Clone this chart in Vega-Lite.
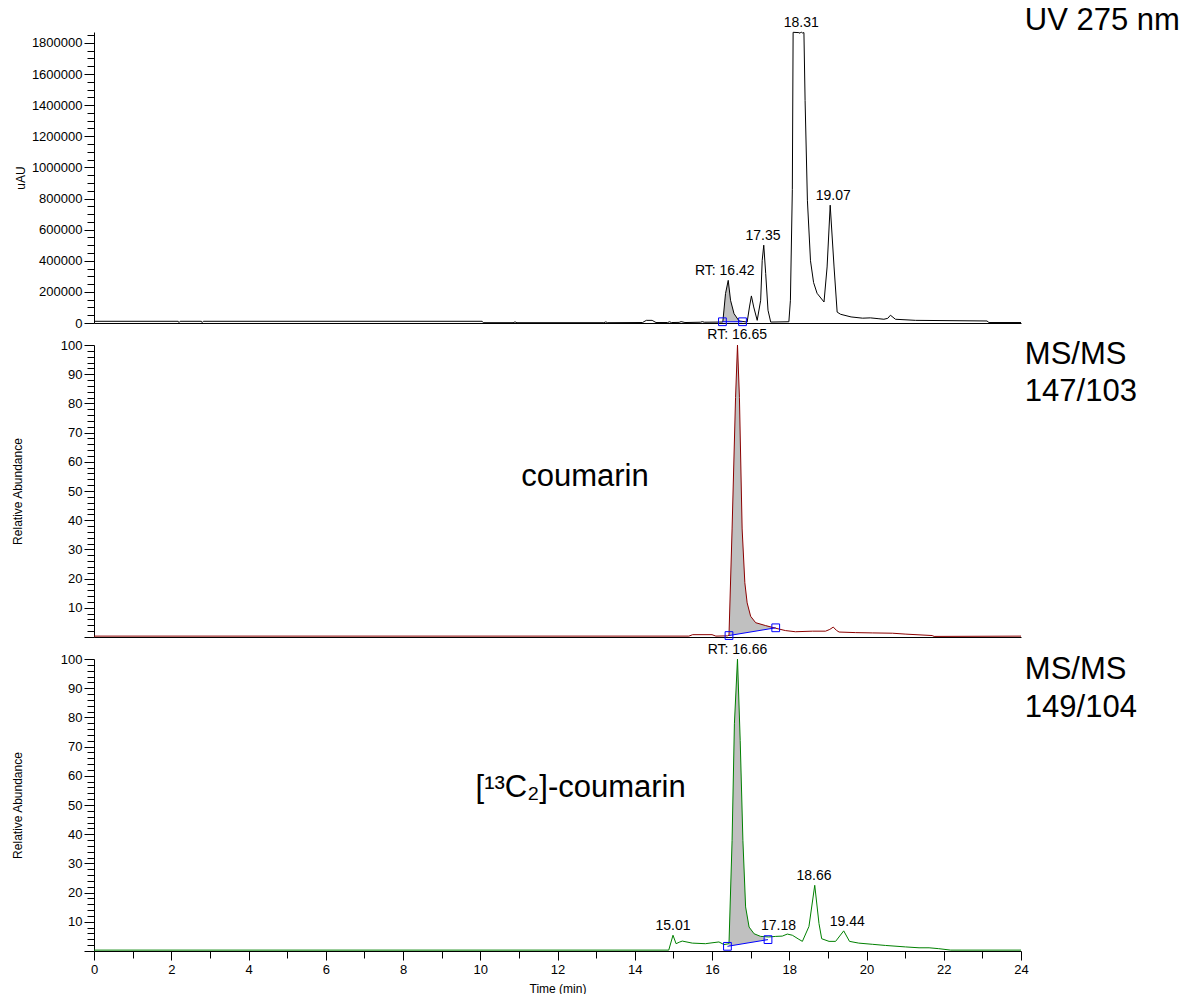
{
  "$schema": "https://vega.github.io/schema/vega-lite/v6.json",
  "padding": {"left": 11, "top": 5, "right": 0, "bottom": 0},
  "autosize": {"type": "pad"},
  "bounds": "flush",
  "spacing": 22,
  "config": {
    "font": "Liberation Sans",
    "view": {"stroke": null},
    "axis": {"domainColor": "black", "tickColor": "black", "labelColor": "black", "titleColor": "black", "grid": false, "labelFontSize": 13, "titleFontWeight": "normal", "titleFontSize": 12, "labelFont": "Liberation Sans", "titleFont": "Liberation Sans", "labelFlush": false},
    "text": {"color": "black", "font": "Liberation Sans"}
  },
  "datasets": {
    "uv": [
      {"t":0,"v":11000},{"t":2.18,"v":11000},{"t":2.2,"v":3000},{"t":2.23,"v":11000},{"t":2.78,"v":11000},{"t":2.8,"v":3000},{"t":2.83,"v":11000},{"t":10.05,"v":11000},{"t":10.08,"v":2000},{"t":10.85,"v":2000},{"t":10.9,"v":7000},{"t":10.95,"v":2000},{"t":13.2,"v":2000},{"t":13.25,"v":7000},{"t":13.3,"v":2000},{"t":14.2,"v":3000},{"t":14.3,"v":17000},{"t":14.45,"v":17000},{"t":14.55,"v":3000},{"t":14.85,"v":3000},{"t":14.9,"v":8000},{"t":14.95,"v":3000},{"t":15.15,"v":4000},{"t":15.2,"v":9000},{"t":15.3,"v":3000},{"t":15.7,"v":5000},{"t":15.75,"v":9000},{"t":15.8,"v":5000},{"t":16.2,"v":6000},{"t":16.28,"v":6400},{"t":16.35,"v":189000},{"t":16.42,"v":274000},{"t":16.48,"v":146000},{"t":16.57,"v":60000},{"t":16.7,"v":13000},{"t":16.91,"v":6000},{"t":16.97,"v":103000},{"t":17.02,"v":174000},{"t":17.08,"v":103000},{"t":17.17,"v":17000},{"t":17.26,"v":146000},{"t":17.3,"v":403000},{"t":17.34,"v":500000},{"t":17.39,"v":318000},{"t":17.45,"v":82000},{"t":17.52,"v":6000},{"t":17.99,"v":8000},{"t":18.03,"v":146000},{"t":18.08,"v":857000},{"t":18.1,"v":1868000},{"t":18.25,"v":1866000},{"t":18.28,"v":1862000},{"t":18.31,"v":1870000},{"t":18.34,"v":1864000},{"t":18.38,"v":1866000},{"t":18.41,"v":1430000},{"t":18.47,"v":789000},{"t":18.55,"v":400000},{"t":18.63,"v":260000},{"t":18.72,"v":191000},{"t":18.9,"v":135000},{"t":18.98,"v":360000},{"t":19.06,"v":757000},{"t":19.16,"v":360000},{"t":19.24,"v":70000},{"t":19.33,"v":56000},{"t":19.6,"v":39000},{"t":19.9,"v":31000},{"t":20.1,"v":33000},{"t":20.3,"v":28000},{"t":20.45,"v":24000},{"t":20.55,"v":30000},{"t":20.62,"v":50000},{"t":20.75,"v":24000},{"t":21.27,"v":17000},{"t":23.12,"v":13000},{"t":23.17,"v":3000},{"t":24,"v":3000}
    ],
    "uvFill": [
      {"t":16.28,"v":6400,"b":6000},{"t":16.35,"v":189000,"b":6000},{"t":16.42,"v":274000,"b":6000},{"t":16.48,"v":146000,"b":6000},{"t":16.57,"v":60000,"b":6000},{"t":16.7,"v":13000,"b":6000},{"t":16.75,"v":6000,"b":6000}
    ],
    "uvBase": [{"t":16.27,"v":8000},{"t":16.79,"v":8000}],
    "uvLab": [
      {"t":16.33,"v":274000,"label":"RT: 16.42"},{"t":17.32,"v":500000,"label":"17.35"},{"t":18.31,"v":1870000,"label":"18.31"},{"t":19.14,"v":757000,"label":"19.07"}
    ],
    "uvBig": [{"t":24.1,"v":1882000,"label":"UV 275 nm"}],
    "ms1": [
      {"t":0,"v":0.3},{"t":15.4,"v":0.3},{"t":15.5,"v":0.8},{"t":16.0,"v":0.8},{"t":16.1,"v":0.3},{"t":16.4,"v":0.4},{"t":16.44,"v":0.6},{"t":16.52,"v":37},{"t":16.61,"v":82},{"t":16.66,"v":100},{"t":16.71,"v":82},{"t":16.78,"v":37},{"t":16.85,"v":18.6},{"t":16.91,"v":11.7},{"t":17.0,"v":7.1},{"t":17.13,"v":4.9},{"t":17.39,"v":3.9},{"t":17.65,"v":3.0},{"t":17.9,"v":2.2},{"t":18.16,"v":1.8},{"t":18.6,"v":2.0},{"t":18.94,"v":2.0},{"t":19.05,"v":2.6},{"t":19.14,"v":3.4},{"t":19.22,"v":2.3},{"t":19.29,"v":1.7},{"t":19.72,"v":1.5},{"t":20.15,"v":1.4},{"t":20.67,"v":1.3},{"t":21.0,"v":1.0},{"t":21.7,"v":0.5},{"t":21.75,"v":0.2},{"t":24,"v":0.3}
    ],
    "ms1Fill": [
      {"t":16.44,"v":0.5,"b":0.5},{"t":16.52,"v":37,"b":0.68},{"t":16.61,"v":82,"b":0.87},{"t":16.66,"v":100,"b":0.98},{"t":16.71,"v":82,"b":1.09},{"t":16.78,"v":37,"b":1.24},{"t":16.85,"v":18.6,"b":1.4},{"t":16.91,"v":11.7,"b":1.53},{"t":17.0,"v":7.1,"b":1.73},{"t":17.13,"v":4.9,"b":2.01},{"t":17.39,"v":3.9,"b":2.58},{"t":17.65,"v":3.15,"b":3.15}
    ],
    "ms1Base": [{"t":16.44,"v":0.5},{"t":17.65,"v":3.15}],
    "ms1Lab": [{"t":16.65,"v":100,"label":"RT: 16.65"}],
    "ms1Big": [{"t":24.1,"v":93.4,"label":"MS/MS"},{"t":24.1,"v":80.7,"label":"147/103"}],
    "ms1Name": [{"t":12.71,"v":51.7,"label":"coumarin"}],
    "ms2": [
      {"t":0,"v":0.3},{"t":14.88,"v":0.3},{"t":14.99,"v":5.4},{"t":15.07,"v":2.5},{"t":15.15,"v":3.0},{"t":15.23,"v":3.4},{"t":15.49,"v":2.7},{"t":15.83,"v":2.5},{"t":16.0,"v":2.8},{"t":16.18,"v":3.1},{"t":16.31,"v":2.2},{"t":16.44,"v":2.5},{"t":16.52,"v":37.9},{"t":16.58,"v":77.8},{"t":16.66,"v":100},{"t":16.73,"v":72.1},{"t":16.8,"v":37.9},{"t":16.87,"v":15.1},{"t":16.96,"v":8.2},{"t":17.09,"v":5.9},{"t":17.26,"v":5.0},{"t":17.47,"v":4.8},{"t":17.65,"v":5.0},{"t":17.82,"v":5.1},{"t":17.95,"v":5.8},{"t":18.08,"v":5.4},{"t":18.25,"v":4.0},{"t":18.34,"v":3.3},{"t":18.51,"v":8.4},{"t":18.66,"v":22.5},{"t":18.77,"v":9.4},{"t":18.84,"v":4.2},{"t":19.03,"v":3.3},{"t":19.2,"v":3.3},{"t":19.41,"v":6.9},{"t":19.56,"v":3.3},{"t":19.8,"v":2.7},{"t":20.15,"v":2.3},{"t":20.49,"v":1.9},{"t":21.01,"v":1.4},{"t":21.36,"v":1.1},{"t":21.62,"v":1.1},{"t":21.87,"v":0.8},{"t":22.18,"v":0.3},{"t":24,"v":0.3}
    ],
    "ms2Fill": [
      {"t":16.44,"v":1.7,"b":1.7},{"t":16.52,"v":37.9,"b":1.86},{"t":16.58,"v":77.8,"b":1.99},{"t":16.66,"v":100,"b":2.17},{"t":16.73,"v":72.1,"b":2.32},{"t":16.8,"v":37.9,"b":2.48},{"t":16.87,"v":15.1,"b":2.63},{"t":16.96,"v":8.2,"b":2.83},{"t":17.09,"v":5.9,"b":3.11},{"t":17.26,"v":5.0,"b":3.48},{"t":17.45,"v":3.9,"b":3.9}
    ],
    "ms2Base": [{"t":16.4,"v":1.6},{"t":17.45,"v":3.9}],
    "ms2Lab": [
      {"t":16.66,"v":100,"label":"RT: 16.66"},{"t":14.99,"v":5.4,"label":"15.01"},{"t":17.72,"v":5.4,"label":"17.18"},{"t":18.64,"v":22.5,"label":"18.66"},{"t":19.5,"v":6.9,"label":"19.44"}
    ],
    "ms2Big": [{"t":24.1,"v":93.3,"label":"MS/MS"},{"t":24.1,"v":80.0,"label":"149/104"}],
    "ms2Name": [{"t":12.6,"v":52.6,"label":"[¹³C₂]-coumarin"}]
  },
  "vconcat": [
    {
      "width": 927, "height": 291,
      "encoding": {
        "x": {"field": "t", "type": "quantitative", "scale": {"domain": [0, 24], "nice": false, "zero": false}, "axis": {"labels": false, "ticks": false, "title": null}},
        "y": {"field": "v", "type": "quantitative", "scale": {"domain": [0, 1870000], "nice": false},
          "axis": {"title": "uAU", "titlePadding": 4, "format": "d", "labelPadding": 2,
            "values": [0,50000,100000,150000,200000,250000,300000,350000,400000,450000,500000,550000,600000,650000,700000,750000,800000,850000,900000,950000,1000000,1050000,1100000,1150000,1200000,1250000,1300000,1350000,1400000,1450000,1500000,1550000,1600000,1650000,1700000,1750000,1800000,1850000],
            "labelExpr": "datum.value % 200000 === 0 ? datum.label : ''",
            "tickSize": {"condition": {"test": "datum.value % 200000 === 0", "value": 10}, "value": 7}}}
      },
      "layer": [
        {"data": {"name": "uvFill"}, "mark": {"type": "area", "color": "#c0c0c0", "opacity": 1}, "encoding": {"y2": {"field": "b"}}},
        {"data": {"name": "uv"}, "mark": {"type": "line", "color": "black", "strokeWidth": 1}},
        {"data": {"name": "uvBase"}, "mark": {"type": "line", "color": "#0000ff", "strokeWidth": 1}},
        {"data": {"name": "uvBase"}, "mark": {"type": "point", "shape": "square", "size": 60, "filled": false, "color": "#0000ff", "strokeWidth": 1, "opacity": 1}},
        {"data": {"name": "uvLab"}, "mark": {"type": "text", "fontSize": 14, "baseline": "alphabetic", "dy": -5}, "encoding": {"text": {"field": "label"}}},
        {"data": {"name": "uvBig"}, "mark": {"type": "text", "fontSize": 31, "align": "left", "baseline": "alphabetic"}, "encoding": {"text": {"field": "label"}}}
      ]
    },
    {
      "width": 927, "height": 292,
      "encoding": {
        "x": {"field": "t", "type": "quantitative", "scale": {"domain": [0, 24], "nice": false, "zero": false}, "axis": {"labels": false, "ticks": false, "title": null}},
        "y": {"field": "v", "type": "quantitative", "scale": {"domain": [0, 100], "nice": false},
          "axis": {"title": "Relative Abundance", "titlePadding": 36, "labelPadding": 2, "format": "d",
            "values": [0,2,4,6,8,10,12,14,16,18,20,22,24,26,28,30,32,34,36,38,40,42,44,46,48,50,52,54,56,58,60,62,64,66,68,70,72,74,76,78,80,82,84,86,88,90,92,94,96,98,100],
            "labelExpr": "datum.value % 10 === 0 && datum.value > 0 ? datum.label : ''",
            "tickSize": {"condition": {"test": "datum.value % 10 === 0", "value": 10}, "value": 7}}}
      },
      "layer": [
        {"data": {"name": "ms1Fill"}, "mark": {"type": "area", "color": "#c0c0c0", "opacity": 1}, "encoding": {"y2": {"field": "b"}}},
        {"data": {"name": "ms1"}, "mark": {"type": "line", "color": "#8b0000", "strokeWidth": 1}},
        {"data": {"name": "ms1Base"}, "mark": {"type": "line", "color": "#0000ff", "strokeWidth": 1}},
        {"data": {"name": "ms1Base"}, "mark": {"type": "point", "shape": "square", "size": 60, "filled": false, "color": "#0000ff", "strokeWidth": 1, "opacity": 1}},
        {"data": {"name": "ms1Lab"}, "mark": {"type": "text", "fontSize": 14, "baseline": "alphabetic", "dy": -6}, "encoding": {"text": {"field": "label"}}},
        {"data": {"name": "ms1Big"}, "mark": {"type": "text", "fontSize": 31, "align": "left", "baseline": "alphabetic"}, "encoding": {"text": {"field": "label"}}},
        {"data": {"name": "ms1Name"}, "mark": {"type": "text", "fontSize": 31, "align": "center", "baseline": "alphabetic"}, "encoding": {"text": {"field": "label"}}}
      ]
    },
    {
      "width": 927, "height": 292,
      "encoding": {
        "x": {"field": "t", "type": "quantitative", "scale": {"domain": [0, 24], "nice": false, "zero": false},
          "axis": {"title": "Time (min)", "titlePadding": 7, "labelPadding": 3, "format": "d",
            "values": [0,0.5,1,1.5,2,2.5,3,3.5,4,4.5,5,5.5,6,6.5,7,7.5,8,8.5,9,9.5,10,10.5,11,11.5,12,12.5,13,13.5,14,14.5,15,15.5,16,16.5,17,17.5,18,18.5,19,19.5,20,20.5,21,21.5,22,22.5,23,23.5,24],
            "labelExpr": "datum.value % 2 === 0 ? datum.label : ''",
            "tickSize": {"condition": {"test": "datum.value % 2 === 0", "value": 9}, "value": 7}}},
        "y": {"field": "v", "type": "quantitative", "scale": {"domain": [0, 100], "nice": false},
          "axis": {"title": "Relative Abundance", "titlePadding": 36, "labelPadding": 2, "format": "d",
            "values": [0,2,4,6,8,10,12,14,16,18,20,22,24,26,28,30,32,34,36,38,40,42,44,46,48,50,52,54,56,58,60,62,64,66,68,70,72,74,76,78,80,82,84,86,88,90,92,94,96,98,100],
            "labelExpr": "datum.value % 10 === 0 && datum.value > 0 ? datum.label : ''",
            "tickSize": {"condition": {"test": "datum.value % 10 === 0", "value": 10}, "value": 7}}}
      },
      "layer": [
        {"data": {"name": "ms2Fill"}, "mark": {"type": "area", "color": "#c0c0c0", "opacity": 1}, "encoding": {"y2": {"field": "b"}}},
        {"data": {"name": "ms2"}, "mark": {"type": "line", "color": "#008000", "strokeWidth": 1}},
        {"data": {"name": "ms2Base"}, "mark": {"type": "line", "color": "#0000ff", "strokeWidth": 1}},
        {"data": {"name": "ms2Base"}, "mark": {"type": "point", "shape": "square", "size": 60, "filled": false, "color": "#0000ff", "strokeWidth": 1, "opacity": 1}},
        {"data": {"name": "ms2Lab"}, "mark": {"type": "text", "fontSize": 14, "baseline": "alphabetic", "dy": -5}, "encoding": {"text": {"field": "label"}}},
        {"data": {"name": "ms2Big"}, "mark": {"type": "text", "fontSize": 31, "align": "left", "baseline": "alphabetic"}, "encoding": {"text": {"field": "label"}}},
        {"data": {"name": "ms2Name"}, "mark": {"type": "text", "fontSize": 31, "align": "center", "baseline": "alphabetic"}, "encoding": {"text": {"field": "label"}}}
      ]
    }
  ]
}
